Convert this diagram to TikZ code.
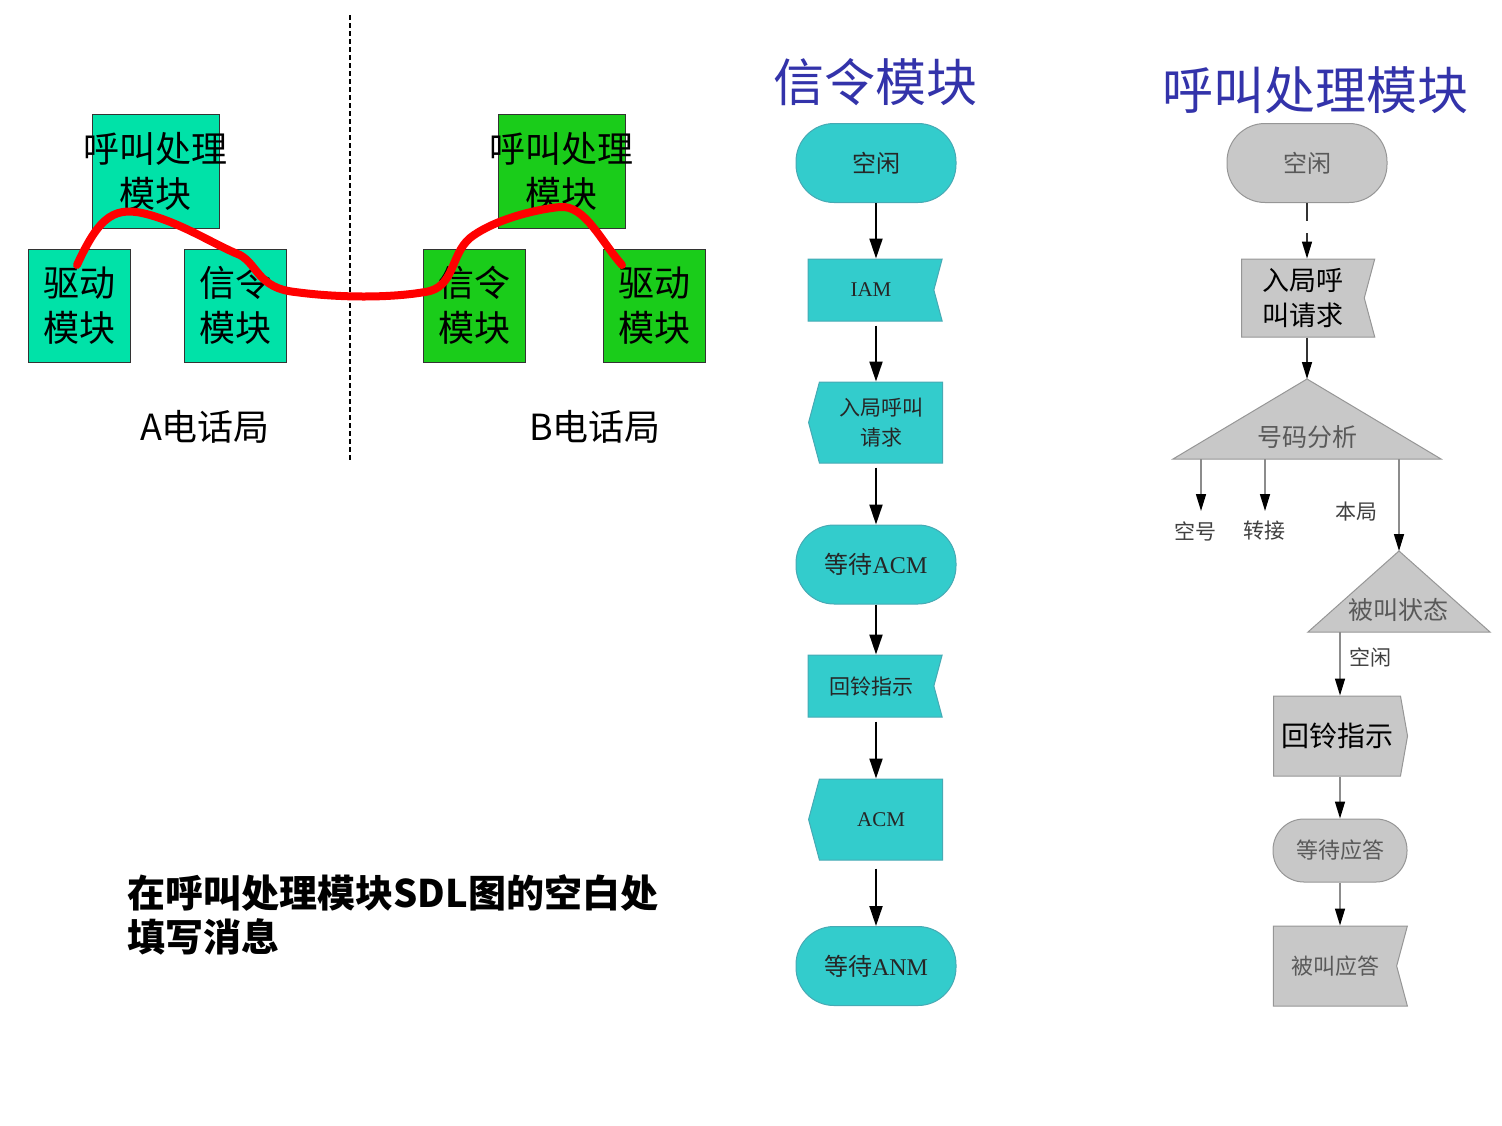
\documentclass[tikz,border=0pt]{standalone}
\usepackage{fontspec}
\setmainfont{Liberation Serif}
\newfontfamily\cjk{Noto Sans CJK SC}
\usetikzlibrary{arrows.meta,shapes.symbols}
\definecolor{modA}{RGB}{0,226,168}
\definecolor{modB}{RGB}{26,204,26}
\definecolor{sdlteal}{RGB}{51,204,204}
\definecolor{sdledge}{RGB}{70,170,180}
\definecolor{sdlgray}{RGB}{200,200,200}
\definecolor{grayedge}{RGB}{150,150,150}
\definecolor{titleblue}{RGB}{51,51,170}
\begin{document}
\begin{tikzpicture}[x=1pt, y=-1pt, thick,
    mod/.style = {draw=black!80, line width=1pt, minimum width=102pt, minimum height=113pt, inner sep=0pt},
    modtxt/.style = {font=\cjk\fontsize{36}{45}\selectfont, align=center, inner sep=0pt},
    state/.style = {draw=sdledge, fill=sdlteal, rounded corners=38pt, line width=1pt, minimum width=160pt, minimum height=79pt, inner sep=0pt, font=\fontsize{24}{28}\selectfont, text=black!85},
    recv/.style = {signal, signal to=nowhere, signal from=east, signal pointer angle=150, draw=sdledge, fill=sdlteal, line width=1pt, minimum width=134pt, inner sep=0pt, font=\fontsize{21}{30}\selectfont, align=center, text=black!85},
    send/.style = {signal, signal to=west, signal pointer angle=150, draw=sdledge, fill=sdlteal, line width=1pt, minimum width=134pt, inner sep=0pt, font=\fontsize{21}{30}\selectfont, align=center, text=black!85},
    gstate/.style = {state, draw=grayedge, fill=sdlgray, text=black!65},
    grecv/.style = {recv, draw=grayedge, fill=sdlgray, text=black!65},
    gsend/.style = {signal, signal to=east, signal pointer angle=160, draw=grayedge, fill=sdlgray, line width=1pt, minimum width=134pt, inner sep=0pt, align=center},
    flow/.style = {line width=2pt, -{Triangle[width=13pt,length=20pt]}},
    gflow/.style = {draw=black!45, line width=1.5pt, -{Triangle[width=10pt,length=17pt,black]}},
    small/.style = {font=\cjk\fontsize{21}{24}\selectfont, text=black!75, inner sep=0pt}]
\useasboundingbox (0,0) rectangle (1502,1125);

% exchange A and exchange B
\draw[dash pattern=on 5pt off 3pt, line width=1.2pt] (350,15) -- (350,460);
\node[mod, fill=modA, minimum width=127pt, minimum height=114pt] (ca) at (155.5,171) {};
\node[mod, fill=modA] (da) at (79,305.5) {};
\node[mod, fill=modA] (sa) at (235,305.5) {};
\node[mod, fill=modB, minimum width=127pt, minimum height=114pt] (cb) at (561.5,171) {};
\node[mod, fill=modB] (sb) at (474,305.5) {};
\node[mod, fill=modB] (db) at (654,305.5) {};
\node[modtxt] (cat) at (ca) {呼叫处理\\模块};
\node[modtxt] (dat) at (da) {驱动\\模块};
\node[modtxt] (sat) at (sa) {信令\\模块};
\node[modtxt] (cbt) at (cb) {呼叫处理\\模块};
\node[modtxt] (sbt) at (sb) {信令\\模块};
\node[modtxt] (dbt) at (db) {驱动\\模块};
\node[modtxt] (exa) at (205,427) {A电话局};
\node[modtxt] (exb) at (595,427) {B电话局};
\draw[red, line width=8pt, line cap=round]
  (77,265) .. controls (100,215) and (115,205) .. (150,215)
  .. controls (185,225) and (215,245) .. (240,255)
  .. controls (258,265) and (258,288) .. (295,292)
  .. controls (340,298) and (390,298) .. (425,292)
  .. controls (455,288) and (450,255) .. (470,238)
  .. controls (490,222) and (530,210) .. (560,207)
  .. controls (585,205) and (600,240) .. (622,265);

% signalling module
\node[font=\cjk\fontsize{51}{51}\selectfont, text=titleblue] (st) at (875,82) {信令模块};
\node[state] (s1) at (876,163) {\cjk 空闲};
\node[recv, minimum height=62pt] (s2) at (871,290) {IAM};
\node[send, minimum height=81pt] (s3) at (881,422.5) {\cjk 入局呼叫\\\cjk 请求};
\node[state] (s4) at (876,564.5) {{\cjk 等待}ACM};
\node[recv, minimum height=62pt] (s5) at (871,686) {\cjk 回铃指示};
\node[send, minimum height=81pt] (s6) at (881,819.5) {ACM};
\node[state] (s7) at (876,966) {{\cjk 等待}ANM};
\draw[flow] (s1) -- (s2.north -| s1);
\draw[flow] (s2.south -| s1) ++(0,4) -- (s3.north -| s1);
\draw[flow] (s3.south -| s1) ++(0,4) -- (s4);
\draw[flow] (s4) -- (s5.north -| s4);
\draw[flow] (s5.south -| s4) ++(0,4) -- (s6.north -| s4);
\draw[flow] (s6.south -| s4) ++(0,8) -- (s7);

% call processing module
\node[font=\cjk\fontsize{51}{51}\selectfont, text=titleblue] (ct) at (1315,90) {呼叫处理模块};
\node[gstate, font=\cjk\fontsize{24}{28}\selectfont] (c1) at (1307,163) {空闲};
\node[grecv, minimum width=133pt, minimum height=78pt, font=\cjk\fontsize{27}{35}\selectfont, text=black] (c2) at (1303,298) {入局呼\\叫请求};
\coordinate (a1) at (1307,379);
\fill[sdlgray, draw=grayedge, line width=1pt] (a1) -- (1441,459) -- (1173,459) -- cycle;
\node[font=\cjk\fontsize{25}{28}\selectfont, text=black!65] (c3) at (1307,437) {号码分析};
\coordinate (b1) at (1201,459);
\coordinate (b2) at (1265,459);
\coordinate (b3) at (1399,459);
\node[small] (k1) at (1195,531) {空号};
\node[small] (k2) at (1264,531) {转接};
\node[small] (k3) at (1356,512) {本局};
\coordinate (a2) at (1399,551);
\fill[sdlgray, draw=grayedge, line width=1pt] (a2) -- (1490,632) -- (1308,632) -- cycle;
\node[font=\cjk\fontsize{25}{28}\selectfont, text=black!65] (c4) at (1398,610) {被叫状态};
\coordinate (b4) at (1340,632);
\node[small] (k4) at (1370,657) {空闲};
\node[gsend, minimum height=80pt, font=\cjk\fontsize{28}{32}\selectfont, text=black] (c5) at (1337,736) {回铃指示};
\node[gstate, minimum width=134pt, minimum height=63pt, rounded corners=31pt, font=\cjk\fontsize{22}{26}\selectfont] (c6) at (1340,850.5) {等待应答};
\node[grecv, minimum height=80pt, font=\cjk\fontsize{22}{26}\selectfont] (c7) at (1335,966) {被叫应答};
\draw[gflow, draw=black!80, dash pattern=on 18pt off 12pt] (c1) -- (c2.north -| c1);
\draw[gflow, draw=black!80] (c2.south -| a1) -- (a1);
\draw[gflow] (b1) -- ++(0,52);
\draw[gflow] (b2) -- ++(0,52);
\draw[gflow] (b3) -- (a2);
\draw[gflow] (b4) -- (c5.north -| b4);
\draw[gflow] (c5.south -| b4) -- (c6);
\draw[gflow] (c6) -- (c7.north -| c6);

% task text
\node[font=\cjk\bfseries\fontsize{38}{44}\selectfont, align=left, anchor=north west, inner sep=0pt] (task) at (127,874) {在呼叫处理模块SDL图的空白处\\填写消息};
\end{tikzpicture}
\end{document}
